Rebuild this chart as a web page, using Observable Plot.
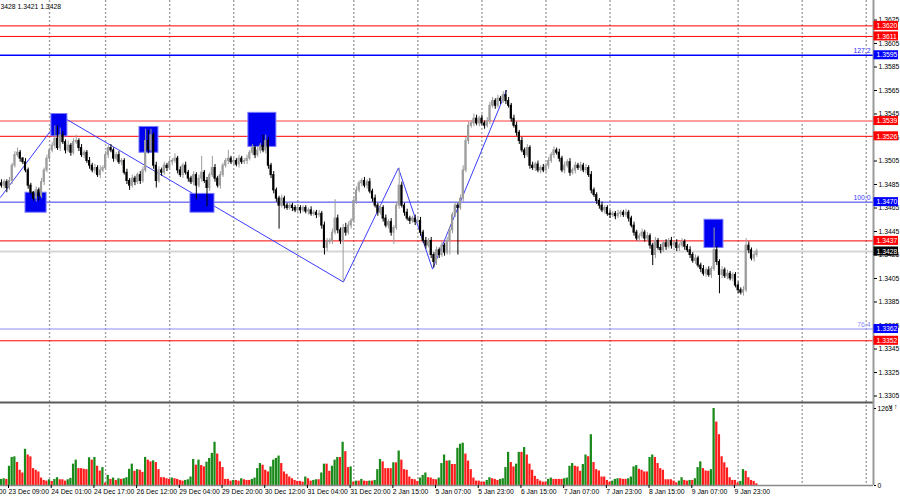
<!DOCTYPE html>
<html><head><meta charset="utf-8">
<script src="https://cdn.jsdelivr.net/npm/d3@7"></script>
<script src="https://cdn.jsdelivr.net/npm/@observablehq/plot@0.6"></script>
<style>
html,body{margin:0;padding:0;background:#fff;}
#chart{width:900px;height:500px;overflow:hidden;position:relative;}
#chart svg{display:block;}
</style></head><body><div id="chart"></div>
<script>
// ---------- DATA (prices in pips above 1.3000) ----------
const BASE = 1.3, PIP = 0.0001;
const firstBarIndex = -3;
const firstOpenPip = 486;
const closePips = [
484,487,482,488,
501,510,512,507,504,497,484,478,473,480,
475,487,497,507,514,518,524,516,527,521,
514,518,512,521,522,516,510,512,505,501,
497,499,493,497,499,510,516,514,507,510,
504,505,495,488,484,490,487,493,488,497,
522,514,527,501,488,497,495,501,499,504,
505,507,497,493,501,495,490,487,493,484,
490,495,488,482,493,499,490,484,493,501,
505,507,504,505,502,507,504,505,507,512,
516,510,514,518,514,522,501,493,480,473,
467,473,467,465,467,465,463,465,463,465,
462,463,460,461,459,460,450,431,436,437,
444,456,446,437,448,444,450,454,471,480,
486,488,484,487,479,473,467,461,465,456,
450,453,444,448,467,484,467,461,456,454,
456,453,454,444,437,433,437,425,419,429,
425,433,427,437,446,459,467,465,473,497,
522,535,537,541,537,541,537,535,539,552,
556,552,558,556,561,556,552,541,535,529,
522,514,510,516,501,499,502,497,499,497,
501,505,510,514,512,507,497,501,504,495,
497,501,499,501,497,499,493,480,476,471,
467,463,465,460,459,460,458,460,461,459,
461,456,450,444,439,441,444,439,441,433,
425,437,431,429,435,432,437,433,435,431,
433,436,432,429,425,420,422,416,413,409,
412,408,413,429,419,408,412,407,409,405,
408,399,395,393,395,433,429,422,425,428];
const upperWickPips = [
3,2,2,3,
2,3,4,2,1,3,2,2,1,3,
2,3,2,3,2,3,11,11,6,3,
2,4,2,3,5,2,3,2,2,3,
2,3,2,4,2,3,2,3,2,2,
3,2,2,3,2,3,2,2,3,3,
10,9,5,2,3,3,2,3,2,3,
2,4,2,3,2,3,2,2,3,2,
3,14,2,3,2,10,3,2,3,2,
2,7,2,3,2,3,2,2,3,2,
3,2,3,2,9,5,3,2,3,2,
2,3,2,2,3,2,2,3,2,2,
2,2,3,2,2,3,2,3,3,2,
3,16,3,2,3,4,3,2,3,3,
2,2,3,2,3,2,3,2,3,2,
3,2,3,2,3,15,3,2,3,2,
2,3,2,3,2,3,2,3,2,3,
2,3,2,3,3,2,3,2,3,4,
3,3,2,4,3,2,3,2,3,3,
3,2,3,2,3,4,3,2,3,3,
2,3,2,3,2,3,2,3,2,3,
2,3,2,3,2,3,2,3,2,3,
2,3,2,3,2,3,2,3,2,2,
2,3,2,2,3,2,2,3,2,2,
3,2,2,3,2,2,3,2,3,2,
2,3,2,3,2,3,2,3,2,3,
2,3,2,2,3,2,3,2,2,3,
2,3,2,19,3,2,3,2,3,2,
2,2,3,2,3,6,3,2,3,2];
const lowerWickPips = [
2,3,4,2,
3,2,2,3,2,2,3,2,2,3,
4,2,3,2,3,2,3,2,3,2,
3,2,3,2,2,3,2,3,2,3,
2,3,2,3,2,2,3,2,3,2,
2,3,2,3,4,2,3,2,3,2,
2,3,2,3,6,2,3,2,3,2,
3,2,3,2,3,2,3,2,3,12,
2,3,2,16,3,2,3,2,3,2,
2,3,2,3,2,3,2,2,3,2,
2,3,2,3,2,3,3,3,3,3,
20,2,3,2,2,3,2,2,3,2,
2,3,2,2,3,2,3,6,3,2,
3,2,3,3,35,3,2,3,2,3,
2,3,2,3,2,3,2,3,2,3,
2,3,3,10,2,3,2,3,2,3,
2,3,2,3,2,3,2,3,5,3,
3,2,3,2,12,3,2,40,2,3,
2,3,2,3,2,3,2,3,2,3,
2,3,2,3,2,3,2,3,2,3,
3,2,3,2,3,2,3,2,3,2,
2,3,2,3,2,3,2,3,2,3,
2,3,2,3,2,3,2,3,2,3,
3,2,3,2,3,2,3,2,3,2,
2,3,2,3,2,3,2,3,2,3,
9,3,2,3,2,3,2,3,2,3,
3,2,3,2,3,2,3,2,3,2,
3,2,3,2,3,16,3,2,3,2,
3,2,3,2,3,2,3,2,3,2];
const volumes = [
100,110,100,316,460,470,377,250,205,594,
500,470,277,250,222,122,83,72,94,67,
100,128,94,94,72,94,117,350,416,277,
277,266,260,455,416,460,316,238,294,39,
166,100,122,83,111,100,111,128,266,350,
233,260,250,216,460,416,388,405,377,260,
128,128,111,100,122,111,100,83,72,83,
94,139,427,333,416,327,305,383,444,527,
710,516,388,294,100,100,72,83,83,72,
111,94,83,83,100,122,277,360,333,250,
222,305,416,444,483,360,222,183,139,111,
83,67,67,55,139,111,72,83,94,94,
205,350,350,233,316,416,460,460,710,555,
294,305,55,72,72,100,72,67,72,72,
83,260,427,388,277,277,277,372,372,566,
416,260,250,139,100,94,67,122,166,205,
128,122,100,94,122,
360,500,400,405,344,344,610,677,694,516,
400,260,122,72,72,55,55,83,128,111,
100,83,100,111,294,544,377,305,350,544,
544,622,500,350,250,150,100,72,55,55,
100,122,100,100,100,100,111,122,316,360,
316,305,233,344,500,472,833,377,260,238,
139,139,83,55,72,100,111,111,100,100,
111,139,305,327,266,250,222,222,460,500,
460,360,277,250,94,94,94,72,44,72,
128,83,72,83,83,111,294,388,277,238,
233,260,1263,1040,833,472,372,288,128,83,
83,39,67,260,233,128,83,67,28];
const priceTicks = [1.3305,1.3325,1.3345,1.3365,1.3385,1.3405,1.3425,1.3445,1.3465,1.3485,1.3505,1.3525,1.3545,1.3565,1.3585,1.3605,1.3625];
const volumeTicks = [0, 1263];
const timeTickIndex = [-16,0,16,32,48,64,80,96,112,128,144,160,176,192,208,224,240,256,272];
const timeTickLabels = ["22 Dec 17:00","23 Dec 09:00","24 Dec 01:00","24 Dec 17:00","26 Dec 12:00","29 Dec 04:00","29 Dec 20:00","30 Dec 12:00","31 Dec 04:00","31 Dec 20:00","2 Jan 15:00","5 Jan 07:00","5 Jan 23:00","6 Jan 15:00","7 Jan 07:00","7 Jan 23:00","8 Jan 15:00","9 Jan 07:00","9 Jan 23:00"];
const dayGridIndex = [15,36,60,84,108,129,153,177,201,225,249,273,297,321];
const levelPrices = [1.3620,1.3611,1.3595,1.3539,1.3526,1.3470,1.3437,1.3428,1.3362,1.3352];
const levelKinds  = ["red","red","blue","pink","red","blueMid","red","bid","blueLight","red"];
const fibPrices = [1.3595,1.3470,1.3362];
const fibTexts  = ["127.2","100.0","76.4"];
const fibKinds  = ["blue","blueMid","blueLight"];
const zoneStart = [6.0,15.7,48.7,67.8,89.5,260.4];
const zoneEnd   = [13.9,21.7,55.8,76.8,100.0,267.5];
const zoneHigh  = [1.3478,1.3545,1.3534,1.3477,1.3546,1.3455];
const zoneLow   = [1.3461,1.3526,1.3512,1.3461,1.3517,1.3431];
const zigzagIndex = [-3.4,19.5,125.1,145.7,158.5,186.2];
const zigzagPrice = [1.3474,1.3543,1.3402,1.3499,1.3413,1.3565];
const quoteText = "3428 1.3421 1.3428";

// ---------- build tables ----------
const candles = closePips.map((c, k) => {
  const o = k ? closePips[k - 1] : firstOpenPip;
  const hi = Math.max(o, c) + upperWickPips[k];
  const lo = Math.min(o, c) - lowerWickPips[k];
  return {i: firstBarIndex + k, o: BASE + o * PIP, c: BASE + c * PIP, h: BASE + hi * PIP, l: BASE + lo * PIP, up: c > o};
});
const bull = candles.filter(d => d.up), bear = candles.filter(d => !d.up);
const vol = volumes.map((v, k) => ({i: firstBarIndex + k, v, up: k === 0 || v > volumes[k - 1]}));
const levels = levelPrices.map((p, k) => ({price: p, kind: levelKinds[k]}));
const fibs = fibPrices.map((p, k) => ({price: p, text: fibTexts[k], kind: fibKinds[k]}));
const zones = zoneStart.map((s, k) => ({i1: s, i2: zoneEnd[k], p1: zoneLow[k], p2: zoneHigh[k]}));
const zigzag = zigzagIndex.map((i, k) => ({i, p: zigzagPrice[k]}));
const tickLabel = new Map(timeTickIndex.map((t, k) => [t, timeTickLabels[k]]));

// ---------- layout calibration ----------
const X0 = 9, BAR_PX = 2.669, PLOT_RIGHT = 873;
const xDomain = [(0 - X0) / BAR_PX, (PLOT_RIGHT - X0) / BAR_PX];
const PRICE_H = 401, REF_PRICE = 1.3405, REF_Y = 278, PX_PER_PIP = 1.175;
const yDomain = [REF_PRICE - (PRICE_H - REF_Y) / PX_PER_PIP * PIP, REF_PRICE + REF_Y / PX_PER_PIP * PIP];
const VOL_H = 99, VOL_MB = 15;
const volMax = 1263 * (VOL_H - VOL_MB) / (VOL_H - VOL_MB - 7);

const lineStyle = {
  red: {stroke: "#ff0000", w: 1}, pink: {stroke: "#ff9c9c", w: 2}, blue: {stroke: "#0000ff", w: 1.5},
  blueMid: {stroke: "#3434e6", w: 1}, blueLight: {stroke: "#8c8cff", w: 1}, bid: {stroke: "#d6d6d6", w: 2}
};
const boxFill = {red: "#ff0000", pink: "#ff0000", blue: "#0000ff", blueMid: "#0000ff", blueLight: "#0000ff", bid: "#000000"};
const fibColor = {blue: "#2a2aff", blueMid: "#3a3aff", blueLight: "#8c8cff"};
const FONT = "Liberation Sans, Arial, sans-serif";
const FS = 6.8;
const style = {fontFamily: FONT, fontSize: FS + "px", background: "#fff", color: "#000"};
const grid = (extra) => Plot.ruleX(dayGridIndex, {stroke: "#a0a0a0", strokeWidth: 1.4, strokeDasharray: "2,2", ...extra});

const pricePlot = Plot.plot({
  width: 900, height: PRICE_H, marginLeft: 0, marginRight: 900 - PLOT_RIGHT, marginTop: 0, marginBottom: 0,
  x: {domain: xDomain, axis: null}, y: {domain: yDomain, axis: null}, color: {type: "identity"}, style,
  marks: [
    grid(),
    ...Object.keys(lineStyle).map(k => Plot.ruleY(levels.filter(d => d.kind === k), {y: "price", stroke: lineStyle[k].stroke, strokeWidth: lineStyle[k].w})),
    Plot.line(zigzag, {x: "i", y: "p", stroke: "#3c3cff", strokeWidth: 1}),
    Plot.rect(zones, {x1: "i1", x2: "i2", y1: "p1", y2: "p2", fill: "#0000f0", stroke: "#7a7aff", strokeWidth: 1}),
    Plot.ruleX(bull, {x: "i", y1: "l", y2: "h", stroke: "#9c9c9c", strokeWidth: 1}),
    Plot.ruleX(bear, {x: "i", y1: "l", y2: "h", stroke: "#000", strokeWidth: 1}),
    Plot.rect(bull, {x1: d => d.i - 0.4, x2: d => d.i + 0.4, y1: "o", y2: "c", fill: "#9c9c9c", insetTop: -0.5, insetBottom: -0.5}),
    Plot.rect(bear, {x1: d => d.i - 0.4, x2: d => d.i + 0.4, y1: "o", y2: "c", fill: "#000", insetTop: -0.5, insetBottom: -0.5}),
    Plot.text(fibs, {x: xDomain[1], y: "price", text: "text", textAnchor: "end", dx: -3, dy: -4, fill: d => fibColor[d.kind], fontSize: FS}),
    Plot.ruleX([xDomain[1]], {stroke: "#9a9a9a", strokeWidth: 2}),
    Plot.axisY(priceTicks, {anchor: "right", tickSize: 3, tickPadding: 2, tickFormat: d => d.toFixed(4), fontSize: FS}),
    Plot.rect(levels, {x1: xDomain[1], x2: xDomain[1], y1: "price", y2: "price", insetLeft: 0.5, insetRight: -25, insetTop: -4.5, insetBottom: -4.5, fill: d => boxFill[d.kind]}),
    Plot.text(levels, {x: xDomain[1], y: "price", text: d => d.price.toFixed(4), textAnchor: "start", dx: 3, fill: "#fff", fontSize: FS}),
    Plot.text([quoteText], {x: xDomain[0], y: yDomain[1], text: d => d, textAnchor: "start", dy: 6, fill: "#000", fontSize: FS})
  ]
});

const volPlot = Plot.plot({
  width: 900, height: VOL_H, marginLeft: 0, marginRight: 900 - PLOT_RIGHT, marginTop: 0, marginBottom: VOL_MB,
  x: {domain: xDomain, axis: null}, y: {domain: [0, volMax], axis: null}, color: {type: "identity"}, style,
  marks: [
    grid(),
    Plot.rect(vol, {x1: d => d.i - 0.42, x2: d => d.i + 0.42, y1: 0, y2: "v", fill: d => d.up ? "#1a8a1a" : "#ff1c1c"}),
    Plot.ruleY([volMax], {stroke: "#5a5a5a", strokeWidth: 2, dy: 1}),
    Plot.ruleY([0], {stroke: "#8a8a8a", strokeWidth: 1.5}),
    Plot.ruleX([xDomain[1]], {stroke: "#9a9a9a", strokeWidth: 2}),
    Plot.axisY(volumeTicks, {anchor: "right", tickSize: 2, tickPadding: 2, tickFormat: d => String(d), fontSize: FS}),
    Plot.axisX(timeTickIndex, {anchor: "bottom", tickSize: 3, tickPadding: 1, textAnchor: "start", dx: -1, tickFormat: d => tickLabel.get(d), fontSize: FS})
  ]
});

const root = document.getElementById("chart");
root.appendChild(pricePlot);
root.appendChild(volPlot);
</script>
</body></html>
